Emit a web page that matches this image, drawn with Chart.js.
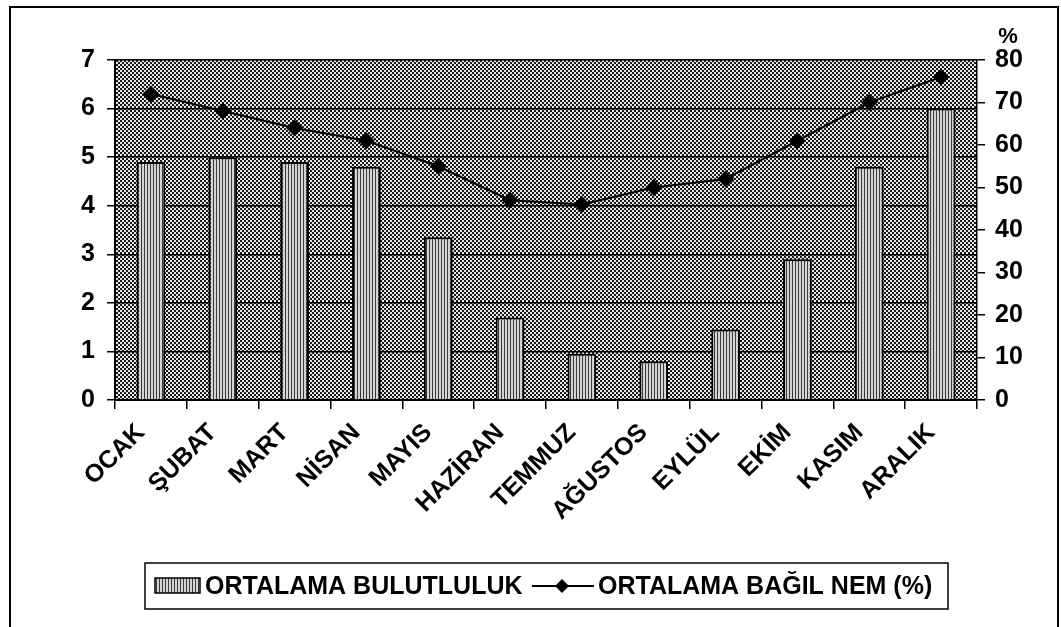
<!DOCTYPE html>
<html>
<head>
<meta charset="utf-8">
<script src="https://cdn.jsdelivr.net/npm/chart.js@4.4.1/dist/chart.umd.min.js"></script>
<style>
 body { margin:0; background:#fff; }
 #wrap { width:1061px; height:627px; }
</style>
</head>
<body>
<div id="wrap"><canvas id="myChart" width="1061" height="627"></canvas></div>
<script>
 // aylar ve degerler
 var months = ['OCAK','ŞUBAT','MART','NİSAN','MAYIS','HAZİRAN','TEMMUZ','AĞUSTOS','EYLÜL','EKİM','KASIM','ARALIK'];
 var cloudiness = [4.9, 5.0, 4.9, 4.8, 3.35, 1.7, 0.95, 0.8, 1.45, 2.9, 4.8, 6.0];
 var humidity = [72, 68, 64, 61, 55, 47, 46, 50, 52, 61, 70, 76];
 var leftTicks = [0, 7, 1];
 var rightTicks = [0, 80, 10];
 var legendText = ['ORTALAMA BULUTLULUK', 'ORTALAMA BAĞIL NEM (%)'];

 var FONT = 'Liberation Sans, Arial, sans-serif';

 function checker() {
 var c = document.createElement('canvas');
 c.width = 4; c.height = 4;
 var g = c.getContext('2d');
 g.fillStyle = '#e6e6e6'; g.fillRect(0, 0, 4, 4);
 g.fillStyle = '#1a1a1a';
 g.fillRect(0, 0, 2, 2); g.fillRect(2, 2, 2, 2);
 return g.createPattern(c, 'repeat');
 }
 function stripes() {
 var c = document.createElement('canvas');
 c.width = 3; c.height = 3;
 var g = c.getContext('2d');
 g.fillStyle = '#d4d4d4'; g.fillRect(0, 0, 3, 3);
 g.fillStyle = '#3a3a3a'; g.fillRect(0, 0, 1, 3);
 return g.createPattern(c, 'repeat');
 }
 var bgPat = checker();
 var barPat = stripes();

 var decor = {
 id: 'decor',
 beforeDraw: function(chart) {
 var ctx = chart.ctx, a = chart.chartArea;
 ctx.save();
 ctx.fillStyle = '#fff';
 ctx.fillRect(0, 0, chart.width, chart.height);
 ctx.strokeStyle = '#000'; ctx.lineWidth = 2;
 ctx.strokeRect(10, 7, 1048, 640);
 ctx.fillStyle = bgPat;
 ctx.fillRect(a.left, a.top, a.right - a.left, a.bottom - a.top);
 ctx.restore();
 },
 afterDraw: function(chart) {
 var ctx = chart.ctx;
 ctx.save();
 // % basligi
 ctx.fillStyle = '#000';
 ctx.font = 'bold 22px ' + FONT;
 ctx.textAlign = 'center'; ctx.textBaseline = 'middle';
 ctx.fillText('%', 1008, 37);
 // lejant
 ctx.lineWidth = 1.5; ctx.strokeStyle = '#000';
 ctx.strokeRect(145, 563, 803, 46);
 ctx.fillStyle = barPat;
 ctx.fillRect(155, 578, 45, 15);
 ctx.strokeRect(155, 578, 45, 15);
 ctx.fillStyle = '#000';
 ctx.font = 'bold 25px ' + FONT;
 ctx.textAlign = 'left';
 ctx.fillText(legendText[0], 205, 587);
 ctx.lineWidth = 2;
 ctx.beginPath(); ctx.moveTo(532, 586); ctx.lineTo(594, 586); ctx.stroke();
 ctx.beginPath();
 ctx.moveTo(562, 579); ctx.lineTo(569, 586); ctx.lineTo(562, 593); ctx.lineTo(555, 586);
 ctx.closePath(); ctx.fill();
 ctx.fillText(legendText[1], 598, 587);
 ctx.restore();
 }
 };

 new Chart('myChart', {
 type: 'bar',
 data: {
 labels: months,
 datasets: [
 {
 type: 'line',
 label: legendText[1],
 data: humidity,
 yAxisID: 'y1',
 borderColor: '#000',
 borderWidth: 2,
 pointStyle: 'rectRot',
 pointRadius: 7,
 pointBackgroundColor: '#000',
 pointBorderColor: '#000',
 tension: 0,
 order: 0
 },
 {
 label: legendText[0],
 data: cloudiness,
 yAxisID: 'y',
 backgroundColor: barPat,
 borderColor: '#000',
 borderWidth: 2,
 categoryPercentage: 1,
 barPercentage: 0.4,
 order: 1
 }
 ]
 },
 options: {
 responsive: false,
 animation: false,
 layout: { padding: { top: 60, left: 0, right: 0, bottom: 0 } },
 plugins: { legend: { display: false }, tooltip: { enabled: false } },
 scales: {
 x: {
 grid: { drawOnChartArea: false, drawTicks: true, tickLength: 9, color: '#000', lineWidth: 1.5, offset: true },
 border: { color: '#000', width: 2 },
 ticks: { minRotation: 45, maxRotation: 45, color: '#000', padding: 9, labelOffset: -10, font: { family: FONT, size: 25, weight: 'bold' } },
 afterFit: function(s) { s.height = 227; }
 },
 y: {
 position: 'left',
 min: leftTicks[0], max: leftTicks[1],
 ticks: { stepSize: leftTicks[2], color: '#000', padding: 12, font: { family: FONT, size: 25, weight: 'bold' } },
 grid: { color: '#000', lineWidth: 1.5, tickLength: 8 },
 border: { color: '#000', width: 2 },
 afterFit: function(s) { s.width = 115; }
 },
 y1: {
 position: 'right',
 min: rightTicks[0], max: rightTicks[1],
 ticks: { stepSize: rightTicks[2], color: '#000', padding: 10, font: { family: FONT, size: 25, weight: 'bold' } },
 grid: { drawOnChartArea: false, color: '#000', lineWidth: 1.5, tickLength: 8 },
 border: { color: '#000', width: 1.5 },
 afterFit: function(s) { s.width = 84; }
 }
 }
 },
 plugins: [decor]
 });
</script>
</body>
</html>
